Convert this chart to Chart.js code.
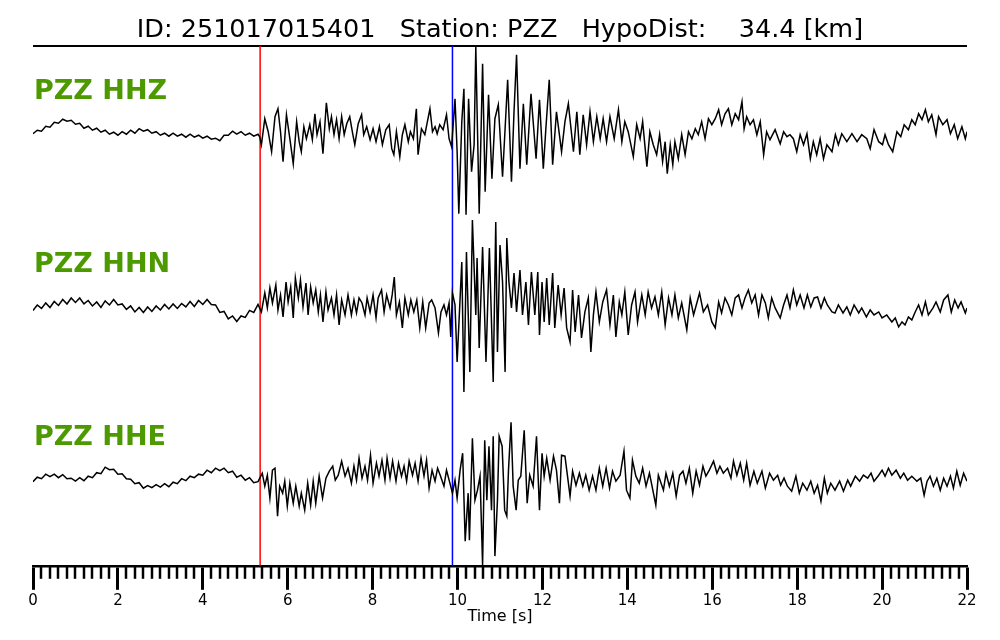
<!DOCTYPE html>
<html>
<head>
<meta charset="utf-8">
<script src="https://cdn.jsdelivr.net/npm/chart.js@4.4.1/dist/chart.umd.min.js"></script>
<style>
  html, body { margin: 0; padding: 0; background: #ffffff; }
  #contenedor { width: 1000px; height: 640px; }
</style>
</head>
<body>
<div id="contenedor"><canvas id="grafico-sismo" width="1000" height="640"></canvas></div>
<script>
/* =========================
   DATOS
   ========================= */
const tituloEvento = "ID: 251017015401   Station: PZZ   HypoDist:    34.4 [km]";
const nombresCanales = ["PZZ HHZ", "PZZ HHN", "PZZ HHE"];
const tiempoOndaP = 5.35;
const tiempoOndaS = 9.88;
const nivelEtiqueta = 41;
const rangoAmplitud = 86.7;

// [tiempo s, amplitud normalizada]
const trazaHHZ = [
  [0.0,-1],[0.1,2.5],[0.2,1.5],[0.3,6.5],[0.4,5.5],[0.5,10.5],[0.6,9.5],[0.7,13.5],[0.8,11.5],[0.9,12.5],
  [1.0,8.5],[1.1,9.5],[1.2,4.5],[1.3,6.5],[1.4,2.5],[1.5,4.5],[1.6,0.5],[1.7,2.5],[1.8,-1.5],[1.9,0.5],
  [2.0,-2.5],[2.1,1],[2.2,-1.5],[2.3,2.5],[2.4,-0.5],[2.5,4],[2.6,1.5],[2.7,3],[2.8,-0.5],[2.9,1],
  [3.0,-2.5],[3.1,-0.5],[3.2,-3.5],[3.3,-0.5],[3.4,-3.5],[3.5,-1.5],[3.6,-4.5],[3.7,-1.5],[3.8,-4.5],[3.9,-2.5],
  [4.0,-5.5],[4.1,-3.5],[4.2,-6.5],[4.3,-5.5],[4.4,-8],[4.5,-2.5],[4.6,-2.5],[4.7,1.5],[4.8,-1.5],[4.9,1],
  [5.0,-2.5],[5.1,-0.5],[5.2,-3.5],[5.3,-1.5],
  [5.34,-4],[5.38,-12],[5.46,14],[5.54,1],[5.62,-19],[5.70,16],[5.77,24],[5.83,1],[5.89,-29],[5.97,18],
  [6.05,-6],[6.13,-31],[6.21,11],[6.27,-9],[6.32,-19],[6.38,6],[6.44,-6],[6.52,8],[6.58,-7],[6.64,19],
  [6.69,-2],[6.76,11],[6.83,-21],[6.91,30],[6.98,4],[7.03,16],[7.09,-2],[7.15,13],[7.21,-6],[7.27,16],
  [7.33,-2],[7.39,9],[7.46,16],[7.53,-1],[7.58,-12],[7.66,9],[7.74,18],[7.79,-2],[7.86,6],[7.94,-7],
  [8.01,4],[8.08,-9],[8.16,6],[8.23,-12],[8.31,3],[8.39,8],[8.45,-16],[8.50,-22],[8.56,1],[8.64,-24],
  [8.70,-2],[8.76,8],[8.84,-9],[8.89,1],[8.96,-6],[9.03,24],[9.07,-22],[9.15,4],[9.23,-2],[9.29,11],
  [9.35,24],[9.41,1],[9.47,6],[9.52,-1],[9.58,8],[9.66,3],[9.74,18],[9.80,-6],[9.86,-14],
  [9.94,34],[9.99,-19],[10.03,-81],[10.10,11],[10.15,44],[10.20,-82],[10.26,34],[10.33,-39],[10.39,-12],[10.43,86],
  [10.51,-81],[10.59,69],[10.65,-59],[10.73,38],[10.81,-46],[10.88,14],[10.96,28],[11.06,-44],[11.12,4],[11.18,53],
  [11.27,-49],[11.33,21],[11.39,78],[11.47,-36],[11.55,29],[11.63,-32],[11.73,39],[11.85,-26],[11.93,33],[12.02,-36],
  [12.08,4],[12.16,53],[12.24,-32],[12.33,21],[12.45,-19],[12.53,11],[12.61,29],[12.73,-19],[12.81,21],[12.88,-22],
  [12.96,18],[13.04,-12],[13.12,21],[13.20,-9],[13.28,16],[13.36,-6],[13.43,14],[13.51,-9],[13.59,16],[13.69,-6],
  [13.79,23],[13.87,-9],[13.94,11],[14.02,1],[14.14,-24],[14.22,8],[14.30,-6],[14.36,11],[14.46,-34],[14.53,1],
  [14.61,-12],[14.69,-22],[14.76,-2],[14.83,-29],[14.89,-9],[14.94,-41],[15.01,-12],[15.07,-32],[15.12,-9],[15.20,-26],
  [15.28,-2],[15.36,-22],[15.44,1],[15.52,-6],[15.60,4],[15.67,-2],[15.75,11],[15.83,-6],[15.91,14],[15.99,8],
  [16.07,14],[16.15,23],[16.22,8],[16.30,19],[16.38,24],[16.46,8],[16.54,19],[16.62,13],[16.70,31],[16.75,4],
  [16.81,16],[16.89,8],[16.97,13],[17.05,-2],[17.13,11],[17.21,-22],[17.28,1],[17.36,-7],[17.48,3],[17.60,-11],
  [17.68,1],[17.76,-4],[17.83,-2],[17.91,-6],[17.99,-19],[18.07,-2],[18.15,-12],[18.23,-1],[18.31,-26],[18.38,-9],
  [18.46,-22],[18.54,-6],[18.62,-26],[18.70,-12],[18.82,-19],[18.90,-2],[18.97,-12],[19.05,-1],[19.17,-9],[19.29,-1],
  [19.41,-9],[19.52,-2],[19.64,-6],[19.72,-16],[19.81,3],[19.92,-9],[20.01,-12],[20.07,-2],[20.15,-12],[20.25,-19],
  [20.35,1],[20.44,-4],[20.52,8],[20.62,3],[20.70,13],[20.78,8],[20.86,19],[20.94,13],[21.02,23],[21.09,11],
  [21.17,18],[21.27,-2],[21.33,16],[21.43,8],[21.53,13],[21.61,-1],[21.70,8],[21.78,-6],[21.88,6],[21.96,-6],[22.0,1]
];

const trazaHHN = [
  [0.0,-4.5],[0.1,1],[0.2,-2.5],[0.3,3],[0.4,-1.5],[0.5,4.5],[0.6,0.5],[0.7,6.5],[0.8,2],[0.9,8],
  [1.0,3.5],[1.1,8],[1.2,2],[1.3,5.5],[1.4,0],[1.5,4],[1.6,-1.5],[1.7,5],[1.8,1],[1.9,6.5],
  [2.0,1],[2.1,2],[2.2,-3.5],[2.3,0],[2.4,-6],[2.5,-1.5],[2.6,-6.5],[2.7,-1],[2.8,-5.5],[2.9,0],
  [3.0,-4],[3.1,1.5],[3.2,-3],[3.3,2],[3.4,-2.5],[3.5,2.5],[3.6,-1],[3.7,4.5],[3.8,-0.5],[3.9,5.5],
  [4.0,1.5],[4.1,6.5],[4.2,1.5],[4.3,1],[4.4,-6.5],[4.5,-5.5],[4.6,-13],[4.7,-10],[4.8,-15.5],[4.9,-10],
  [5.0,-11.5],[5.1,-4.5],[5.2,-6.5],[5.3,1.5],
  [5.38,-6],[5.46,13],[5.52,-2],[5.58,18],[5.64,3],[5.72,21],[5.77,-4],[5.83,11],[5.89,-11],[5.96,24],
  [6.01,4],[6.07,19],[6.13,-12],[6.18,28],[6.25,8],[6.30,26],[6.36,-1],[6.43,23],[6.48,-9],[6.54,19],
  [6.60,3],[6.66,16],[6.72,-6],[6.77,11],[6.83,-16],[6.90,14],[6.95,-4],[7.03,8],[7.09,-9],[7.15,11],
  [7.21,-19],[7.27,6],[7.35,-9],[7.42,11],[7.50,-9],[7.56,6],[7.62,-7],[7.68,8],[7.75,3],[7.82,-9],
  [7.87,8],[7.94,-6],[8.01,11],[8.08,-12],[8.13,8],[8.21,16],[8.27,-6],[8.33,11],[8.41,-2],[8.46,11],
  [8.51,29],[8.56,-9],[8.63,4],[8.70,-22],[8.76,8],[8.84,-9],[8.90,6],[8.97,-6],[9.04,6],[9.11,-22],
  [9.18,4],[9.25,-22],[9.33,3],[9.39,6],[9.47,-2],[9.55,-27],[9.61,-6],[9.68,1],[9.74,-9],[9.80,3],
  [9.84,-31],[9.88,13],
  [9.94,1],[9.99,-56],[10.10,44],[10.15,-86],[10.21,54],[10.29,-66],[10.35,86],[10.43,-9],[10.46,48],[10.51,-42],
  [10.59,59],[10.67,-56],[10.75,58],[10.84,-76],[10.90,84],[10.94,-46],[11.00,61],[11.06,24],[11.12,-66],[11.16,68],
  [11.21,24],[11.27,-2],[11.33,33],[11.39,-6],[11.47,36],[11.53,-9],[11.61,24],[11.67,-19],[11.74,34],[11.82,-9],
  [11.89,34],[11.93,-29],[11.99,24],[12.04,-16],[12.10,28],[12.16,-19],[12.24,33],[12.29,-22],[12.37,21],[12.44,-9],
  [12.51,18],[12.57,-22],[12.65,-36],[12.71,16],[12.77,-26],[12.85,11],[12.92,-32],[13.00,-6],[13.08,8],[13.14,-46],
  [13.20,-9],[13.26,14],[13.34,-16],[13.42,4],[13.51,16],[13.59,-19],[13.67,11],[13.73,-31],[13.81,4],[13.87,-9],
  [13.94,14],[14.02,-29],[14.10,1],[14.18,14],[14.24,-16],[14.34,11],[14.42,-9],[14.49,14],[14.57,-2],[14.65,9],
  [14.73,-9],[14.81,14],[14.89,-19],[14.97,8],[15.05,-9],[15.12,11],[15.20,-12],[15.28,3],[15.40,-24],[15.48,8],
  [15.56,-9],[15.70,13],[15.79,-6],[15.89,1],[15.99,-16],[16.07,-22],[16.15,4],[16.22,-7],[16.30,8],[16.38,1],
  [16.46,-9],[16.54,8],[16.62,11],[16.70,-2],[16.77,8],[16.85,16],[16.93,3],[17.01,11],[17.09,-9],[17.17,11],
  [17.25,3],[17.32,-12],[17.40,8],[17.48,-2],[17.60,-12],[17.68,1],[17.76,11],[17.83,-2],[17.91,16],[17.99,1],
  [18.07,11],[18.16,-2],[18.24,11],[18.32,-1],[18.40,8],[18.48,9],[18.56,-2],[18.64,8],[18.71,1],[18.82,-6],
  [18.89,-7],[18.97,1],[19.08,-7],[19.17,-1],[19.25,-9],[19.34,1],[19.45,-7],[19.52,-2],[19.63,-11],[19.72,-4],
  [19.81,-9],[19.92,-6],[20.00,-12],[20.11,-9],[20.23,-16],[20.31,-12],[20.39,-21],[20.47,-16],[20.54,-19],[20.62,-11],
  [20.70,-14],[20.78,-6],[20.86,1],[20.94,-9],[21.02,4],[21.09,-9],[21.20,-2],[21.27,4],[21.37,-6],[21.45,6],
  [21.55,11],[21.63,-6],[21.71,6],[21.79,-2],[21.86,4],[21.96,-7],[22.0,-2]
];

const trazaHHE = [
  [0.0,-2.5],[0.1,2],[0.2,0.5],[0.3,5],[0.4,2.5],[0.5,5],[0.6,1.5],[0.7,4.5],[0.8,0.5],[0.9,1],
  [1.0,-2],[1.1,1.5],[1.2,-1.5],[1.3,3],[1.4,1.5],[1.5,6.5],[1.6,5.5],[1.7,12],[1.8,9.5],[1.9,10],
  [2.0,5],[2.1,5.5],[2.2,0.5],[2.3,0],[2.4,-4.5],[2.5,-3.5],[2.6,-9],[2.7,-6.5],[2.8,-8.5],[2.9,-5.5],
  [3.0,-8],[3.1,-4.5],[3.2,-7.5],[3.3,-3],[3.4,-4.5],[3.5,0.5],[3.6,-1.5],[3.7,3],[3.8,1.5],[3.9,5],
  [4.0,4],[4.1,9],[4.2,6.5],[4.3,11],[4.4,8.5],[4.5,11],[4.6,6.5],[4.7,8],[4.8,2],[4.9,4],
  [5.0,-1],[5.1,1.5],[5.2,-3.5],[5.3,-2.5],
  [5.40,6],[5.46,-7],[5.52,4],[5.58,-19],[5.64,9],[5.70,11],[5.76,-37],[5.81,-7],[5.88,-14],[5.93,-2],
  [5.99,-27],[6.05,-4],[6.13,-24],[6.19,-7],[6.27,-27],[6.32,-14],[6.40,-31],[6.47,-4],[6.54,-26],[6.60,-2],
  [6.66,-24],[6.74,3],[6.82,-19],[6.90,1],[6.98,8],[7.06,13],[7.12,-1],[7.19,4],[7.27,18],[7.35,3],
  [7.42,11],[7.50,-4],[7.56,13],[7.62,-1],[7.68,21],[7.75,1],[7.82,13],[7.88,-1],[7.95,24],[8.01,-4],
  [8.09,16],[8.15,3],[8.22,19],[8.29,-1],[8.34,21],[8.41,1],[8.47,18],[8.55,-2],[8.61,16],[8.68,3],
  [8.74,13],[8.80,-2],[8.86,18],[8.94,4],[9.00,16],[9.07,-2],[9.14,21],[9.21,3],[9.27,19],[9.33,-9],
  [9.40,9],[9.47,-2],[9.53,11],[9.60,3],[9.68,-7],[9.74,9],[9.82,-4],[9.88,-14],
  [9.94,-1],[9.99,-19],[10.06,9],[10.12,26],[10.18,-62],[10.25,-14],[10.28,-61],[10.35,41],[10.41,-21],[10.47,-11],
  [10.53,3],[10.59,-86],[10.64,39],[10.69,-21],[10.74,33],[10.80,-31],[10.84,43],[10.88,-77],[10.94,-21],[10.98,43],
  [11.05,33],[11.11,-31],[11.16,-37],[11.20,9],[11.26,57],[11.31,-7],[11.38,-31],[11.43,-1],[11.49,3],[11.57,49],
  [11.64,-24],[11.70,4],[11.78,-7],[11.86,43],[11.93,-31],[11.99,26],[12.04,3],[12.10,21],[12.18,-1],[12.26,23],
  [12.33,9],[12.40,-24],[12.45,24],[12.53,23],[12.59,3],[12.65,-17],[12.71,8],[12.79,-6],[12.87,6],[12.95,-7],
  [13.02,4],[13.10,-11],[13.18,3],[13.26,-11],[13.34,11],[13.42,-7],[13.50,11],[13.58,-9],[13.65,8],[13.73,-2],
  [13.83,4],[13.92,28],[13.98,-11],[14.06,-19],[14.12,19],[14.20,3],[14.28,-4],[14.36,11],[14.44,-7],[14.52,6],
  [14.60,-11],[14.67,-26],[14.73,4],[14.85,-11],[14.91,6],[14.99,-7],[15.07,6],[15.15,-17],[15.23,4],[15.31,8],
  [15.38,-4],[15.46,11],[15.54,-14],[15.62,8],[15.70,-6],[15.78,13],[15.85,3],[15.93,9],[16.03,18],[16.11,6],
  [16.18,13],[16.26,6],[16.36,11],[16.44,1],[16.50,18],[16.58,4],[16.66,16],[16.74,-1],[16.81,16],[16.89,-6],
  [16.98,8],[17.06,-4],[17.17,8],[17.25,-9],[17.35,6],[17.44,-1],[17.54,4],[17.61,-6],[17.69,1],[17.77,-7],
  [17.87,-12],[17.97,3],[18.05,-14],[18.13,-4],[18.23,-11],[18.32,-2],[18.40,-14],[18.48,-6],[18.56,-22],[18.64,1],
  [18.71,-14],[18.79,-4],[18.89,-11],[19.00,-2],[19.09,-12],[19.19,-1],[19.26,-7],[19.37,3],[19.47,-2],[19.56,4],
  [19.66,1],[19.74,6],[19.81,-2],[19.92,4],[20.00,9],[20.07,3],[20.15,11],[20.23,4],[20.33,9],[20.43,1],
  [20.51,6],[20.60,-1],[20.70,3],[20.82,-2],[20.91,1],[20.99,-16],[21.06,-2],[21.13,3],[21.21,-7],[21.29,1],
  [21.37,-11],[21.45,1],[21.53,-7],[21.61,3],[21.68,-9],[21.76,8],[21.84,-6],[21.92,6],[22.0,-2]
];

const trazas = [trazaHHZ, trazaHHN, trazaHHE];
const ejesCanales = ["ejeHHZ", "ejeHHN", "ejeHHE"];

/* =========================
   UTILIDADES
   ========================= */
const FUENTE = '"DejaVu Sans", "Liberation Sans", sans-serif';

function esMarcaMayor(valor) {
    const redondeado = Math.round(valor);
    return Math.abs(valor - redondeado) < 1e-6 && redondeado % 2 === 0;
}

/* =========================
   PLUGIN: marcas, picadas y etiquetas
   ========================= */
const pluginSismograma = {
    id: "sismograma",
    beforeDatasetsDraw(chart) {
        const ctx = chart.ctx;
        const area = chart.chartArea;
        const ejeX = chart.scales.x;

        ctx.save();
        // linea superior
        ctx.strokeStyle = "#000000";
        ctx.lineWidth = 2;
        ctx.beginPath();
        ctx.moveTo(area.left, area.top);
        ctx.lineTo(area.right, area.top);
        ctx.stroke();

        // picadas P y S
        ctx.lineWidth = 1.5;
        [[tiempoOndaP, "#ff0000"], [tiempoOndaS, "#0000ff"]].forEach(([t, color]) => {
            const px = ejeX.getPixelForValue(t);
            ctx.strokeStyle = color;
            ctx.beginPath();
            ctx.moveTo(px, area.top);
            ctx.lineTo(px, area.bottom);
            ctx.stroke();
        });
        ctx.restore();
    },
    afterDraw(chart) {
        const ctx = chart.ctx;
        const ejeX = chart.scales.x;

        ctx.save();
        // marcas menores
        ctx.strokeStyle = "#000000";
        ctx.lineWidth = 2.5;
        ejeX.ticks.forEach(tick => {
            if (esMarcaMayor(tick.value)) return;
            const px = Math.round(ejeX.getPixelForValue(tick.value));
            ctx.beginPath();
            ctx.moveTo(px, ejeX.top);
            ctx.lineTo(px, ejeX.top + 13);
            ctx.stroke();
        });

        // nombres de canal
        ctx.fillStyle = "#4d9a00";
        ctx.font = "bold 27px " + FUENTE;
        ctx.textAlign = "left";
        ctx.textBaseline = "middle";
        ejesCanales.forEach((idEje, i) => {
            const eje = chart.scales[idEje];
            ctx.fillText(nombresCanales[i], chart.chartArea.left + 1, eje.getPixelForValue(nivelEtiqueta));
        });
        ctx.restore();
    }
};

/* =========================
   GRAFICO
   ========================= */
function construirEjeCanal(peso) {
    return {
        type: "linear",
        position: "left",
        stack: "canales",
        stackWeight: 1,
        weight: peso,
        min: -rangoAmplitud,
        max: rangoAmplitud,
        display: false
    };
}

const contextoGrafico = document.getElementById("grafico-sismo").getContext("2d");

new Chart(contextoGrafico, {
    type: "line",
    data: {
        datasets: trazas.map((traza, i) => ({
            label: nombresCanales[i],
            data: traza,
            yAxisID: ejesCanales[i],
            borderColor: "#000000",
            borderWidth: 1.5,
            pointRadius: 0,
            tension: 0,
            fill: false
        }))
    },
    options: {
        responsive: false,
        animation: false,
        devicePixelRatio: 1,
        layout: { padding: { left: 33, right: 33, top: 0, bottom: 12 } },
        plugins: {
            legend: { display: false },
            tooltip: { enabled: false },
            title: {
                display: true,
                text: tituloEvento,
                color: "#000000",
                font: { family: FUENTE, size: 25.5, weight: "normal" },
                padding: { top: 15, bottom: 0.5 }
            }
        },
        scales: {
            x: {
                type: "linear",
                position: "bottom",
                min: 0,
                max: 22,
                border: { display: true, color: "#000000", width: 2.5 },
                grid: {
                    display: true,
                    drawOnChartArea: false,
                    drawTicks: true,
                    tickLength: 24,
                    tickWidth: 3,
                    tickColor: ctx => esMarcaMayor(ctx.tick.value) ? "#000000" : "rgba(0,0,0,0)"
                },
                ticks: {
                    stepSize: 0.2,
                    autoSkip: false,
                    maxRotation: 0,
                    padding: 2,
                    color: "#000000",
                    font: { family: FUENTE, size: 15 },
                    callback: valor => esMarcaMayor(valor) ? String(Math.round(valor)) : ""
                },
                title: {
                    display: true,
                    text: "Time [s]",
                    color: "#000000",
                    font: { family: FUENTE, size: 16 },
                    padding: { top: -5, bottom: 2 }
                }
            },
            ejeHHZ: construirEjeCanal(3),
            ejeHHN: construirEjeCanal(2),
            ejeHHE: construirEjeCanal(1)
        }
    },
    plugins: [pluginSismograma]
});
</script>
</body>
</html>
